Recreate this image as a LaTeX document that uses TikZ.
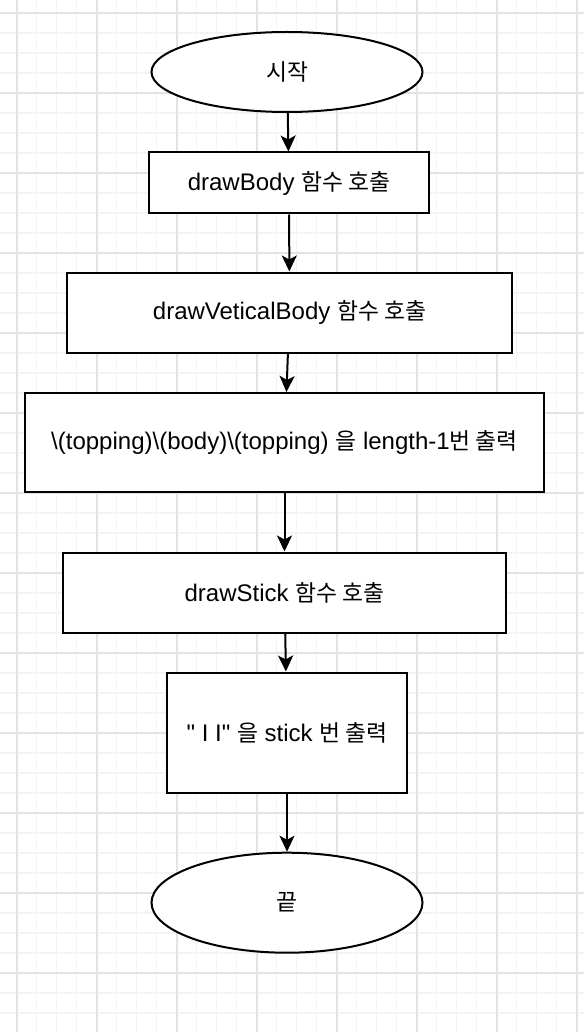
\documentclass[tikz,border=0pt]{standalone}
\usepackage{fontspec}
\setmainfont{Liberation Sans}[Ligatures=TeXOff]
\newfontfamily\kr[Scale=0.95]{Noto Sans CJK KR}
\usetikzlibrary{shapes.geometric,arrows.meta}
\definecolor{minorgrid}{HTML}{F4F4F4}
\definecolor{majorgrid}{HTML}{E3E3E3}
\begin{document}
\begin{tikzpicture}[x=1pt,y=-1pt,
  minorline/.style={draw=minorgrid,line width=1.2pt},
  majorline/.style={draw=majorgrid,line width=1.6pt},
  base/.style={draw=black,line width=2pt,fill=white,inner sep=0pt,align=center,
    font=\fontsize{24}{29}\selectfont},
  term/.style={base,ellipse},
  proc/.style={base,rectangle},
  arr/.style={draw=black,line width=2pt,-{Stealth[length=16pt,width=15pt,inset=4pt]}}
]
\useasboundingbox (0,0) rectangle (584,1032);
\fill[white] (0,0) rectangle (584,1032);
\begin{scope}
\clip (0,0) rectangle (584,1032);
\foreach \i in {0,...,30} { \draw[minorline] ({-3.3+20*\i},0) -- ({-3.3+20*\i},1032); }
\foreach \j in {0,...,52} { \draw[minorline] (0,{-7+20*\j}) -- (584,{-7+20*\j}); }
\foreach \i in {0,...,7} { \draw[majorline] ({16.7+80*\i},0) -- ({16.7+80*\i},1032); }
\foreach \j in {0,...,12} { \draw[majorline] (0,{13+80*\j}) -- (584,{13+80*\j}); }
\end{scope}

\node[term,minimum width=271pt,minimum height=80pt] (start) at (287,72) {\kr 시작};
\node[proc,minimum width=280pt,minimum height=61pt] (b1) at (289,183) {drawBody {\kr 함수 호출}};
\node[proc,minimum width=445pt,minimum height=80pt] (b2) at (289.5,312.5) {drawVeticalBody {\kr 함수 호출}};
\node[proc,minimum width=519pt,minimum height=99pt] (b3) at (284.5,442.5) {\textbackslash(topping)\textbackslash(body)\textbackslash(topping) {\kr 을} length-1{\kr 번 출력}};
\node[proc,minimum width=443pt,minimum height=80pt] (b4) at (284.5,592.5) {drawStick {\kr 함수 호출}};
\node[proc,minimum width=240pt,minimum height=120pt] (b5) at (287,732.5) {" I I" {\kr 을} stick {\kr 번 출력}};
\node[term,minimum width=271pt,minimum height=100pt] (end) at (287,902.7) {\kr 끝};

\draw[arr] (start) -- (b1);
\draw[arr] (b1) -- (b2);
\draw[arr] (b2) -- (b3);
\draw[arr] (b3) -- (b4);
\draw[arr] (b4) -- (b5);
\draw[arr] (b5) -- (end);
\end{tikzpicture}
\end{document}
